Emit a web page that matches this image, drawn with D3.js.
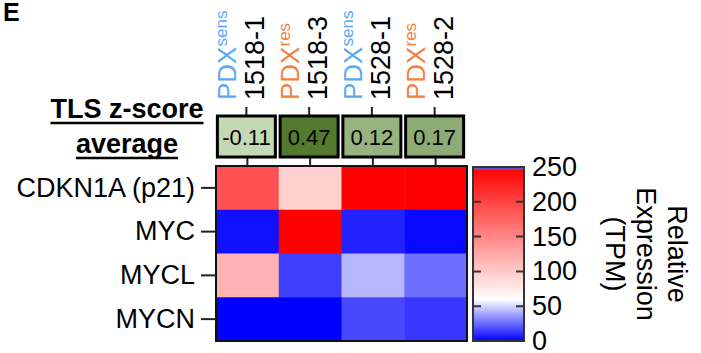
<!DOCTYPE html>
<html>
<head>
<meta charset="utf-8">
<script src="https://cdnjs.cloudflare.com/ajax/libs/d3/7.8.5/d3.min.js"></script>
<style>
  body { margin: 0; background: white; }
  svg { font-family: "Liberation Sans", Arial, sans-serif; }
</style>
</head>
<body>
<div id="chart"></div>
<script>
// data
var samples = ["1518-1", "1518-3", "1528-1", "1528-2"];
var sample_type = ["sens", "res", "sens", "res"];
var genes = ["CDKN1A (p21)", "MYC", "MYCL", "MYCN"];
var tls_scores = [-0.11, 0.47, 0.12, 0.17];
// relative expression (TPM), one array per gene, in sample order
var cdkn1a_tpm = [190, 95, 290, 280];
var myc_tpm = [4, 270, 8, 2];
var mycl_tpm = [117, 15, 43, 26];
var mycn_tpm = [0, 0, 17, 13];
var cbar_ticks = [0, 50, 100, 150, 200, 250];

var tpm_rows = [cdkn1a_tpm, myc_tpm, mycl_tpm, mycn_tpm];
var cells = [];
genes.forEach(function(g, i) {
    samples.forEach(function(s, j) {
        cells.push({gene: g, sample: s, value: tpm_rows[i][j]});
    });
});

var W = 701, H = 353;
var heat = {left: 216, right: 467, top: 166, bottom: 341};
var cbar = {left: 473, right: 524};
var type_colors = {sens: "#5aa8f6", res: "#f2813e"};

var svg = d3.select("#chart").append("svg")
    .attr("width", W)
    .attr("height", H);

var xscale = d3.scaleBand()
    .domain(samples)
    .range([heat.left, heat.right]);

var yscale = d3.scaleBand()
    .domain(genes)
    .range([heat.top, heat.bottom]);

var color = d3.scaleLinear()
    .domain([0, 60, 250])
    .range(["#0000ff", "#ffffff", "#ff0000"])
    .clamp(true);

var box_color = d3.scaleLinear()
    .domain([-0.11, 0.47])
    .range(["#c4d8b4", "#537a2f"]);

// panel letter
svg.append("text")
    .attr("x", 3)
    .attr("y", 21)
    .attr("font-size", 25)
    .attr("font-weight", "bold")
    .text("E");

// heatmap cells
svg.selectAll(".cell")
    .data(cells)
    .enter()
    .append("rect")
    .attr("class", "cell")
    .attr("x", function(d) { return xscale(d.sample) })
    .attr("y", function(d) { return yscale(d.gene) })
    .attr("width", xscale.bandwidth() + 0.5)
    .attr("height", yscale.bandwidth() + 0.5)
    .attr("fill", function(d) { return color(d.value) });

svg.append("rect")
    .attr("x", heat.left)
    .attr("y", heat.top)
    .attr("width", heat.right - heat.left)
    .attr("height", heat.bottom - heat.top)
    .attr("fill", "none")
    .style("stroke", "#111")
    .style("stroke-width", 2);

// row axis
var yaxis = d3.axisLeft()
    .scale(yscale)
    .tickSize(15)
    .tickPadding(6);

var gy = svg.append("g")
    .attr("transform", "translate(" + heat.left + ",0)")
    .call(yaxis);
gy.select(".domain").remove();
gy.selectAll("line").style("stroke", "#222").style("stroke-width", 2);
gy.selectAll("text")
    .attr("font-size", 27)
    .attr("font-family", "'Liberation Sans', Arial, sans-serif")
    .attr("fill", "#000");

// column labels (rotated)
var col = svg.selectAll(".col_label")
    .data(samples)
    .enter()
    .append("g")
    .attr("class", "col_label")
    .attr("transform", function(d) {
        return "translate(" + (xscale(d) + xscale.bandwidth() / 2) + ",100) rotate(-90)";
    });

var pdx = col.append("text")
    .attr("x", 0)
    .attr("y", -11)
    .attr("font-size", 26)
    .attr("fill", function(d, i) { return type_colors[sample_type[i]] });
pdx.append("tspan").text("PDX");
pdx.append("tspan")
    .attr("font-size", 17)
    .attr("dy", -9)
    .text(function(d, i) { return sample_type[i] });

col.append("text")
    .attr("x", 0)
    .attr("y", 17)
    .attr("font-size", 27)
    .attr("fill", "#000")
    .text(function(d) { return d });

// TLS z-score boxes
var box_w = 58, box_top = 116, box_bottom = 157;
var boxes = svg.selectAll(".tls_box")
    .data(samples)
    .enter()
    .append("g")
    .attr("class", "tls_box")
    .attr("transform", function(d) { return "translate(" + (xscale(d) + xscale.bandwidth() / 2 - 1) + ",0)" });

boxes.append("line")
    .attr("x1", 0).attr("x2", 0)
    .attr("y1", 107).attr("y2", box_top)
    .style("stroke", "#222")
    .style("stroke-width", 2);

boxes.append("line")
    .attr("x1", 1).attr("x2", 1)
    .attr("y1", box_bottom).attr("y2", heat.top)
    .style("stroke", "#222")
    .style("stroke-width", 2);

boxes.append("rect")
    .attr("x", -box_w / 2)
    .attr("y", box_top)
    .attr("width", box_w)
    .attr("height", box_bottom - box_top)
    .attr("fill", function(d, i) { return box_color(tls_scores[i]) })
    .style("stroke", "#000")
    .style("stroke-width", 3);

boxes.append("text")
    .attr("x", 0)
    .attr("y", (box_top + box_bottom) / 2 + 8)
    .attr("text-anchor", "middle")
    .attr("font-size", 22)
    .text(function(d, i) { return tls_scores[i].toFixed(2) });

// TLS title, underlined
var title_lines = [{t: "TLS z-score", y: 118}, {t: "average", y: 153}];
title_lines.forEach(function(l) {
    var t = svg.append("text")
        .attr("x", 127)
        .attr("y", l.y)
        .attr("text-anchor", "middle")
        .attr("font-size", 27)
        .attr("font-weight", "bold")
        .text(l.t);
    var w = t.node().getComputedTextLength();
    svg.append("line")
        .attr("x1", 127 - w / 2).attr("x2", 127 + w / 2)
        .attr("y1", l.y + 5).attr("y2", l.y + 5)
        .style("stroke", "#000")
        .style("stroke-width", 2.5);
});

// colour bar
var cscale = d3.scaleLinear()
    .domain([0, 250])
    .range([heat.bottom, 167]);

var grad = svg.append("defs").append("linearGradient")
    .attr("id", "cbar_grad")
    .attr("x1", 0).attr("y1", 1)
    .attr("x2", 0).attr("y2", 0);
d3.range(0, 251, 10).forEach(function(v) {
    grad.append("stop")
        .attr("offset", v / 250)
        .attr("stop-color", color(v));
});

svg.append("rect")
    .attr("x", cbar.left)
    .attr("y", cscale(250))
    .attr("width", cbar.right - cbar.left)
    .attr("height", cscale(0) - cscale(250))
    .attr("fill", "url(#cbar_grad)");

// thin overflow band at the top of the bar
svg.append("rect")
    .attr("x", cbar.left)
    .attr("y", cscale(250))
    .attr("width", cbar.right - cbar.left)
    .attr("height", 3)
    .attr("fill", "#6a4cc4");

svg.selectAll(".cbar_tick")
    .data(cbar_ticks.slice(1, 5))
    .enter()
    .append("path")
    .attr("class", "cbar_tick")
    .attr("d", function(d) {
        var y = cscale(d);
        return "M" + cbar.left + "," + y + "h8M" + cbar.right + "," + y + "h-8";
    })
    .style("stroke", "#333")
    .style("stroke-width", 2);

svg.append("rect")
    .attr("x", cbar.left)
    .attr("y", cscale(250))
    .attr("width", cbar.right - cbar.left)
    .attr("height", cscale(0) - cscale(250))
    .attr("fill", "none")
    .style("stroke", "#333")
    .style("stroke-width", 2);

svg.selectAll(".cbar_label")
    .data(cbar_ticks)
    .enter()
    .append("text")
    .attr("class", "cbar_label")
    .attr("x", 532)
    .attr("y", function(d) { return cscale(d) + 9 })
    .attr("font-size", 27)
    .text(function(d) { return d });

// colour bar title (rotated)
var cbar_title = ["Relative", "Expression", "(TPM)"];
svg.append("g")
    .attr("transform", "translate(668,254) rotate(90)")
    .selectAll("text")
    .data(cbar_title)
    .enter()
    .append("text")
    .attr("x", 0)
    .attr("y", function(d, i) { return i * 31 })
    .attr("text-anchor", "middle")
    .attr("font-size", 27)
    .text(function(d) { return d });
</script>
</body>
</html>
